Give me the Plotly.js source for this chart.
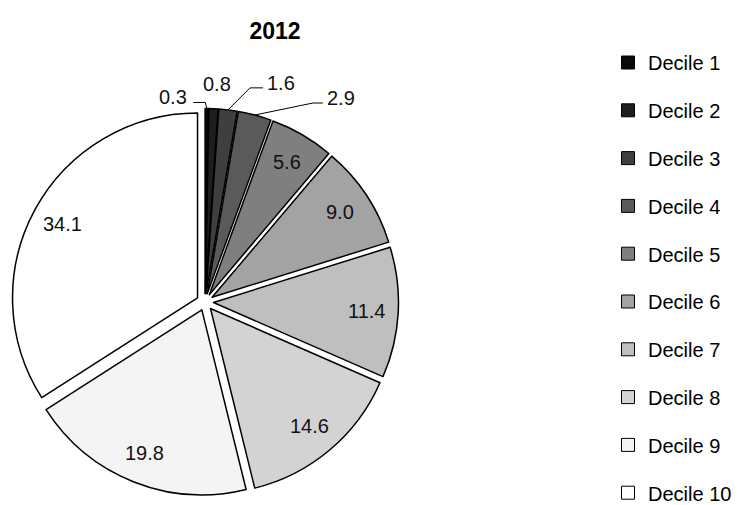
<!DOCTYPE html>
<html>
<head>
<meta charset="utf-8">
<script src="https://cdn.plot.ly/plotly-3.0.1.min.js"></script>
<style>
  html, body { margin: 0; padding: 0; background: #fff; }
  #chart { width: 739px; height: 505px; }
</style>
</head>
<body>
<div id="chart"></div>
<script>
// Share of income by decile, 2012
var categories = ['Decile 1', 'Decile 2', 'Decile 3', 'Decile 4', 'Decile 5',
                  'Decile 6', 'Decile 7', 'Decile 8', 'Decile 9', 'Decile 10'];
var shares = [0.3, 0.8, 1.6, 2.9, 5.6, 9.0, 11.4, 14.6, 19.8, 34.1];
var chartTitle = '2012';

// grey ramp, darkest for the poorest decile
var fills = ['#0a0a0a', '#1e1e1e', '#3f3f3f', '#5a5a5a', '#7f7f7f',
             '#a3a3a3', '#bfbfbf', '#d3d3d3', '#f4f4f4', '#ffffff'];

var W = 739, H = 505;
var FONT = 'Liberation Sans, Arial, sans-serif';
var PULL = 0.046;
var DOM_X = [0.015548, 0.539256];
var DOM_Y = [0.018792, 0.785168];

// pie geometry, the same way plotly sizes a pulled pie in its domain
var boxW = W * (DOM_X[1] - DOM_X[0]);
var boxH = H * (DOM_Y[1] - DOM_Y[0]);
var R = Math.min(boxW, boxH) / 2 / (1 + PULL);
var CX = W * (DOM_X[0] + DOM_X[1]) / 2;
var CY = H * (1 - DOM_Y[0]) - boxH / 2;

var total = shares.reduce(function (a, b) { return a + b; }, 0);
var slices = [];
var cum = 0;
shares.forEach(function (v) {
  var mid = (cum + v / 2) / total * 2 * Math.PI; // clockwise from 12 o'clock
  cum += v;
  var dx = Math.sin(mid), dy = -Math.cos(mid);
  slices.push({
    dx: dx, dy: dy,
    ox: CX + PULL * R * dx,
    oy: CY + PULL * R * dy
  });
});

function px(x) { return x / W; }
function py(y) { return 1 - y / H; }

// small slices get their value outside, with an elbow leader line
// (pixel offsets relative to the point on the rim)
var outside = {
  0: { elbow: [-1.5, -6], run: -12, side: 'right' },
  1: { elbow: null, shift: [4, -24.5] },
  2: { elbow: [22, -22], run: 13, side: 'left' },
  3: { elbow: [58, -12], run: 10, side: 'left' }
};
var INSIDE_K = 0.83;

var annotations = [];
var shapes = [];
shares.forEach(function (v, i) {
  var s = slices[i];
  var label = v.toFixed(1);
  var o = outside[i];
  if (!o) {
    annotations.push({
      xref: 'paper', yref: 'paper',
      x: px(s.ox + INSIDE_K * R * s.dx), y: py(s.oy + INSIDE_K * R * s.dy),
      xanchor: 'center', yanchor: 'middle',
      text: label, showarrow: false,
      font: { family: FONT, size: 20, color: '#111' }
    });
    return;
  }
  var rimX = s.ox + R * s.dx, rimY = s.oy + R * s.dy;
  if (!o.elbow) {
    annotations.push({
      xref: 'paper', yref: 'paper',
      x: px(rimX + o.shift[0]), y: py(rimY + o.shift[1]),
      xanchor: 'center', yanchor: 'middle',
      text: label, showarrow: false,
      font: { family: FONT, size: 20, color: '#111' }
    });
    return;
  }
  var ex = rimX + o.elbow[0], ey = rimY + o.elbow[1];
  var endX = ex + o.run;
  shapes.push({
    type: 'path', xref: 'paper', yref: 'paper',
    path: 'M' + px(rimX) + ',' + py(rimY) + ' L' + px(ex) + ',' + py(ey) +
          ' L' + px(endX) + ',' + py(ey),
    line: { color: '#000', width: 1 }
  });
  annotations.push({
    xref: 'paper', yref: 'paper',
    x: px(endX + (o.side === 'left' ? 2 : -4)), y: py(ey - 5),
    xanchor: o.side === 'left' ? 'left' : 'right', yanchor: 'middle',
    text: label, showarrow: false,
    font: { family: FONT, size: 20, color: '#111' }
  });
});

var pie = {
  type: 'pie',
  labels: categories,
  values: shares,
  sort: false,
  direction: 'clockwise',
  rotation: 0,
  pull: PULL,
  domain: { x: DOM_X, y: DOM_Y },
  marker: { colors: fills, line: { color: '#000', width: 1.5 } },
  textinfo: 'none',
  hoverinfo: 'label+value',
  showlegend: false
};

// legend keys: one entry per decile, spaced down the right edge
var keys = categories.map(function (name, i) {
  return {
    type: 'scatter', x: [null], y: [null], mode: 'markers',
    name: name, legendgroup: 'k' + i,
    marker: { symbol: 'square', size: 13, color: fills[i],
              line: { color: '#000', width: 1 } },
    hoverinfo: 'skip'
  };
});

var layout = {
  width: W, height: H,
  margin: { l: 0, r: 0, t: 0, b: 0, autoexpand: false },
  paper_bgcolor: '#fff', plot_bgcolor: '#fff',
  xaxis: { visible: false }, yaxis: { visible: false },
  title: {
    text: chartTitle,
    x: 275 / W, xanchor: 'center',
    y: 1 - 31 / H, yanchor: 'middle',
    font: { family: FONT, size: 23, color: '#000', weight: 'bold' }
  },
  legend: {
    x: 608 / W, xanchor: 'left',
    y: 1 - 43 / H, yanchor: 'top',
    tracegroupgap: 18.8,
    font: { family: FONT, size: 20, color: '#000' },
    bgcolor: 'rgba(0,0,0,0)'
  },
  annotations: annotations,
  shapes: shapes
};

Plotly.newPlot('chart', [pie].concat(keys), layout, { staticPlot: true });
</script>
</body>
</html>
